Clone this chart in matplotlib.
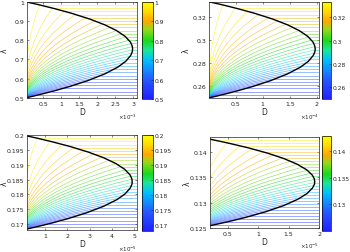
import numpy as np
import matplotlib
matplotlib.use('Agg')
import matplotlib.pyplot as plt
from matplotlib.colors import LinearSegmentedColormap, Normalize
from matplotlib.cm import ScalarMappable

# ---- data (one entry per panel) ----
lam_lo = [0.5, 0.25, 0.168, 0.125]
lam_hi = [1.0, 0.3333, 0.2, 0.1429]
D_tip = [2.98, 1.97, 4.9, 1.93]          # D at nose of black curve (scaled units)
D_lim = [(0.053, 3.11), (0.012, 2.04), (0.21, 5.1), (0.21, 2.0)]
D_exp = [-3, -4, -5, -5]
xticks = [[0.5, 1, 1.5, 2, 2.5, 3], [0.5, 1, 1.5, 2], [1, 2, 3, 4, 5], [0.5, 1, 1.5, 2]]
xticklabels = [['0.5', '1', '1.5', '2', '2.5', '3'], ['0.5', '1', '1.5', '2'],
               ['1', '2', '3', '4', '5'], ['0.5', '1', '1.5', '2']]
yticks = [[0.5, 0.6, 0.7, 0.8, 0.9, 1.0], [0.26, 0.28, 0.30, 0.32],
          [0.17, 0.175, 0.18, 0.185, 0.19, 0.195, 0.2], [0.125, 0.13, 0.135, 0.14]]
yticklabels = [['0.5', '0.6', '0.7', '0.8', '0.9', '1'], ['0.26', '0.28', '0.3', '0.32'],
               ['0.17', '0.175', '0.18', '0.185', '0.19', '0.195', '0.2'],
               ['0.125', '0.13', '0.135', '0.14']]
cticks = [[0.5, 0.6, 0.7, 0.8, 0.9, 1.0], [0.26, 0.28, 0.30, 0.32],
          [0.17, 0.175, 0.18, 0.185, 0.19, 0.195, 0.2], [0.13, 0.135, 0.14]]
cticklabels = [['0.5', '0.6', '0.7', '0.8', '0.9', '1'], ['0.26', '0.28', '0.3', '0.32'],
               ['0.17', '0.175', '0.18', '0.185', '0.19', '0.195', '0.2'],
               ['0.13', '0.135', '0.14']]

# black boundary: fraction of lambda range vs fraction of D_tip
bnd_f = [0, .03, .07, .12, .18, .25, .32, .38, .44, .48, .51, .54, .58, .64, .70, .76, .82, .88, .93, .97, 1]
bnd_d = [0, .114, .256, .415, .581, .74, .861, .935, .981, .997, 1, .996, .98, .93, .85, .74, .60, .43, .265, .12, 0]

n_levels = 30

cmap = LinearSegmentedColormap.from_list('m', [
    (0.00, (0.13, 0.13, 1.0)), (0.20, (0.15, 0.35, 1.0)), (0.40, (0.0, 0.75, 1.0)),
    (0.50, (0.1, 0.9, 0.6)), (0.60, (0.1, 0.85, 0.1)), (0.72, (0.6, 0.85, 0.1)),
    (0.80, (1.0, 0.65, 0.0)), (0.90, (1.0, 0.85, 0.0)), (1.00, (1.0, 1.0, 0.0))])

fig = plt.figure(figsize=(3.5, 2.53), dpi=100)
W, H = 350., 253.
# axes / colorbar pixel boxes: x0, x1, ytop, ybot
ax_box = [(27.3, 137.3, 2.7, 99), (209.3, 319, 2.7, 99), (27.3, 136.7, 136, 231), (210, 319, 137.7, 229.3)]
cb_box = [(142, 152.5, 2.7, 100), (322, 331, 2.7, 100), (142, 152.5, 136, 232), (322, 331, 137, 232)]

def px(b):
    return [b[0] / W, 1 - b[3] / H, (b[1] - b[0]) / W, (b[3] - b[2]) / H]

t = np.linspace(0, 1, 60)
for i in range(4):
    ax = fig.add_axes(px(ax_box[i]))
    a, b = lam_lo[i], lam_hi[i]
    for k in range(1, n_levels):
        g = k / n_levels
        c = a + (b - a) * g
        col = cmap(g)
        dc = np.interp(g, bnd_f, bnd_d)
        p = 1.3 + 1.2 * g
        ax.plot(D_tip[i] * dc * t ** p, a + (b - a) * g * t, color=col, alpha=0.65, lw=0.5)
        ax.plot([D_tip[i] * dc, D_lim[i][1]], [c, c], color=col, alpha=0.65, lw=0.5)
    ax.plot(D_tip[i] * np.array(bnd_d), a + (b - a) * np.array(bnd_f), color='k', lw=1.0)
    ax.set_xlim(*D_lim[i])
    ax.set_ylim(a, b)
    ax.set_xticks(xticks[i])
    ax.set_xticklabels(xticklabels[i])
    ax.set_yticks(yticks[i])
    ax.set_yticklabels(yticklabels[i])
    ax.tick_params(direction='in', length=1.5, width=0.4, labelsize=4.5, pad=2,
                   top=True, right=True, colors='#262626')
    for s in ax.spines.values():
        s.set_linewidth(0.5)
        s.set_color('#262626')
    ax.set_xlabel('D', fontsize=5.5, labelpad=1, color='#262626')
    ax.set_ylabel('λ', fontsize=5.5, color='#262626')
    ax.yaxis.set_label_coords(-0.17, 0.5)
    ax.text(1.0, -0.19, r'$\times10^{%d}$' % D_exp[i], transform=ax.transAxes,
            ha='right', va='center', fontsize=4, color='#262626')

    cax = fig.add_axes(px(cb_box[i]))
    sm = ScalarMappable(norm=Normalize(a, b), cmap=cmap)
    cb = fig.colorbar(sm, cax=cax)
    cb.set_ticks(cticks[i])
    cb.set_ticklabels(cticklabels[i])
    cb.outline.set_linewidth(0.5)
    cax.tick_params(direction='in', length=1.2, width=0.4, labelsize=4.3, pad=1.5, colors='#262626')

fig.savefig('out.png', dpi=100)
